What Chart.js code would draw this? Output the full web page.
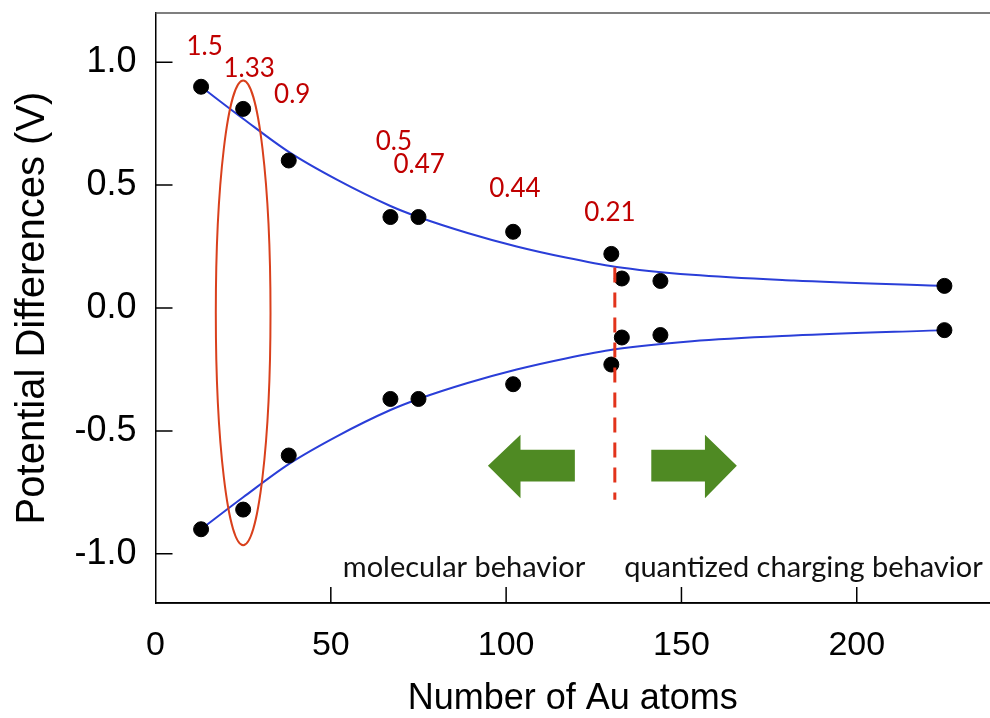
<!DOCTYPE html>
<html>
<head>
<meta charset="utf-8">
<title>Potential differences vs number of Au atoms</title>
<script src="https://cdn.jsdelivr.net/npm/chart.js@4.4.1/dist/chart.umd.min.js"></script>
<style>
  html, body { margin: 0; padding: 0; background: #fff; overflow: hidden; }
  #wrap { width: 990px; height: 718px; }
</style>
</head>
<body>
<div id="wrap"><canvas id="gapChart"></canvas></div>
<script>
// measured clusters (number of Au atoms) and their potential differences
var atoms = [13, 25, 38, 67, 75, 102, 130, 133, 144, 225];
var upperV = [0.90, 0.81, 0.60, 0.37, 0.37, 0.31, 0.22, 0.12, 0.11, 0.09];
var lowerV = [-0.90, -0.82, -0.60, -0.37, -0.37, -0.31, -0.23, -0.12, -0.11, -0.09];

// fitted envelope curves
var fitAtoms = [13, 25, 38, 52, 67, 75, 89, 103, 117, 131, 153, 182, 225];
var fitUpper = [0.90, 0.77, 0.635, 0.52, 0.415, 0.37, 0.305, 0.25, 0.205, 0.168, 0.135, 0.112, 0.09];
var fitLower = [-0.90, -0.77, -0.635, -0.52, -0.415, -0.37, -0.305, -0.25, -0.205, -0.168, -0.135, -0.112, -0.09];

// gap values written above the clusters
var gapLabels = ['1.5', '1.33', '0.9', '0.5', '0.47', '0.44', '0.21'];
var gapLabelX = [14, 26.7, 39, 68, 75.2, 102.5, 129.6];
var gapLabelY = [1.065, 0.973, 0.869, 0.675, 0.584, 0.485, 0.39];

var xTicks = [0, 50, 100, 150, 200];
var yTicks = [-1.0, -0.5, 0.0, 0.5, 1.0];

// boundary between the two regimes
var boundaryAtoms = 131;

// annotation geometry, in axis units
var markup = {
  ring: { x: 25, y: -0.02, rx: 7.8, ry: 0.945 },
  dash: { top: 0.165, bottom: -0.78 },
  leftArrow: [[94.8, -0.642], [104.1, -0.516], [104.1, -0.577], [119.6, -0.577],
              [119.6, -0.706], [104.1, -0.706], [104.1, -0.774]],
  rightArrow: [[165.8, -0.642], [156.7, -0.516], [156.7, -0.577], [141.4, -0.577],
               [141.4, -0.706], [156.7, -0.706], [156.7, -0.774]],
  notes: [
    { text: 'molecular behavior', x: 88, y: -1.095 },
    { text: 'quantized charging behavior', x: 184.8, y: -1.095 }
  ]
};

function toPoints(xs, ys) {
  var pts = [];
  for (var i = 0; i < xs.length; i++) {
    pts.push({ x: xs[i], y: ys[i] });
  }
  return pts;
}

var extras = {
  id: 'extras',
  afterDatasetsDraw: function (chart) {
    var ctx = chart.ctx;
    var xs = chart.scales.x;
    var ys = chart.scales.y;
    var area = chart.chartArea;
    ctx.save();

    // top frame line
    ctx.strokeStyle = '#555';
    ctx.lineWidth = 1.5;
    ctx.beginPath();
    ctx.moveTo(area.left, area.top);
    ctx.lineTo(chart.width, area.top);
    ctx.stroke();

    // bottom axis line runs out to the edge
    ctx.strokeStyle = '#000';
    ctx.beginPath();
    ctx.moveTo(area.left, area.bottom);
    ctx.lineTo(chart.width, area.bottom);
    ctx.stroke();

    // inward tick marks
    ctx.lineWidth = 1.5;
    ctx.beginPath();
    xTicks.forEach(function (v) {
      if (v === 0) return;
      var px = xs.getPixelForValue(v);
      ctx.moveTo(px, area.bottom);
      ctx.lineTo(px, area.bottom - 16);
    });
    yTicks.forEach(function (v) {
      var py = ys.getPixelForValue(v);
      ctx.moveTo(area.left, py);
      ctx.lineTo(area.left + 17, py);
    });
    ctx.stroke();

    // ring round the 25-atom cluster
    var r = markup.ring;
    var cx = xs.getPixelForValue(r.x);
    var cy = ys.getPixelForValue(r.y);
    ctx.strokeStyle = '#d9401c';
    ctx.lineWidth = 2;
    ctx.beginPath();
    ctx.ellipse(cx, cy, xs.getPixelForValue(r.x + r.rx) - cx, cy - ys.getPixelForValue(r.y + r.ry), 0, 0, Math.PI * 2);
    ctx.stroke();

    // dashed boundary
    var bx = xs.getPixelForValue(boundaryAtoms);
    ctx.strokeStyle = '#e2331b';
    ctx.lineWidth = 3;
    ctx.setLineDash([15, 10]);
    ctx.beginPath();
    ctx.moveTo(bx, ys.getPixelForValue(markup.dash.top));
    ctx.lineTo(bx, ys.getPixelForValue(markup.dash.bottom));
    ctx.stroke();
    ctx.setLineDash([]);

    // green arrows
    ctx.fillStyle = '#4f8a23';
    [markup.leftArrow, markup.rightArrow].forEach(function (shape) {
      ctx.beginPath();
      shape.forEach(function (p, i) {
        var px = xs.getPixelForValue(p[0]);
        var py = ys.getPixelForValue(p[1]);
        if (i === 0) ctx.moveTo(px, py); else ctx.lineTo(px, py);
      });
      ctx.closePath();
      ctx.fill();
    });

    // gap values
    ctx.fillStyle = '#c00000';
    ctx.font = '26px Lato';
    ctx.textAlign = 'center';
    ctx.textBaseline = 'middle';
    gapLabels.forEach(function (t, i) {
      ctx.fillText(t, xs.getPixelForValue(gapLabelX[i]), ys.getPixelForValue(gapLabelY[i]));
    });

    // regime notes
    ctx.fillStyle = '#111';
    ctx.font = '29px Lato';
    ctx.textBaseline = 'alphabetic';
    markup.notes.forEach(function (n) {
      ctx.fillText(n.text, xs.getPixelForValue(n.x), ys.getPixelForValue(n.y));
    });

    ctx.restore();
  }
};

var ctx = document.getElementById('gapChart').getContext('2d');

new Chart(ctx, {
  type: 'scatter',
  data: {
    datasets: [
      {
        label: 'upper',
        data: toPoints(atoms, upperV),
        backgroundColor: '#000',
        borderColor: '#000',
        pointRadius: 7.5,
        order: 0
      },
      {
        label: 'lower',
        data: toPoints(atoms, lowerV),
        backgroundColor: '#000',
        borderColor: '#000',
        pointRadius: 7.5,
        order: 0
      },
      {
        label: 'fit upper',
        data: toPoints(fitAtoms, fitUpper),
        showLine: true,
        borderColor: '#2a3ed8',
        borderWidth: 2,
        pointRadius: 0,
        cubicInterpolationMode: 'monotone',
        order: 1
      },
      {
        label: 'fit lower',
        data: toPoints(fitAtoms, fitLower),
        showLine: true,
        borderColor: '#2a3ed8',
        borderWidth: 2,
        pointRadius: 0,
        cubicInterpolationMode: 'monotone',
        order: 1
      }
    ]
  },
  options: {
    responsive: true,
    maintainAspectRatio: false,
    animation: false,
    layout: { autoPadding: false, padding: { top: 13, right: 0, left: 0, bottom: 0 } },
    plugins: {
      legend: { display: false },
      tooltip: { enabled: false }
    },
    scales: {
      x: {
        type: 'linear',
        min: 0,
        max: 238,
        afterFit: function (scale) {
          scale.height = 115;
          scale.paddingLeft = 0;
          scale.paddingRight = 0;
        },
        afterBuildTicks: function (scale) {
          scale.ticks = xTicks.map(function (v) { return { value: v }; });
        },
        grid: { display: false, drawTicks: false },
        border: { display: true, color: '#000', width: 1.5 },
        ticks: {
          color: '#000',
          padding: 22,
          maxRotation: 0,
          font: { family: 'Liberation Sans', size: 34 }
        },
        title: {
          display: true,
          text: 'Number of Au atoms',
          color: '#000',
          font: { family: 'Liberation Sans', size: 36, lineHeight: 1 },
          padding: { top: 0, bottom: 1 }
        }
      },
      y: {
        min: -1.2,
        max: 1.2,
        afterFit: function (scale) {
          scale.width = 155.5;
          scale.paddingTop = 0;
          scale.paddingBottom = 0;
        },
        afterBuildTicks: function (scale) {
          scale.ticks = yTicks.map(function (v) { return { value: v }; });
        },
        grid: { display: false, drawTicks: false },
        border: { display: true, color: '#000', width: 1.5 },
        ticks: {
          color: '#000',
          padding: 19,
          font: { family: 'Liberation Sans', size: 36 },
          callback: function (v) { return v.toFixed(1); }
        },
        title: {
          display: true,
          text: 'Potential Differences (V)',
          color: '#000',
          font: { family: 'Liberation Sans', size: 40, lineHeight: 1 },
          padding: { top: 13, bottom: 0 }
        }
      }
    }
  },
  plugins: [extras]
});
</script>
</body>
</html>
